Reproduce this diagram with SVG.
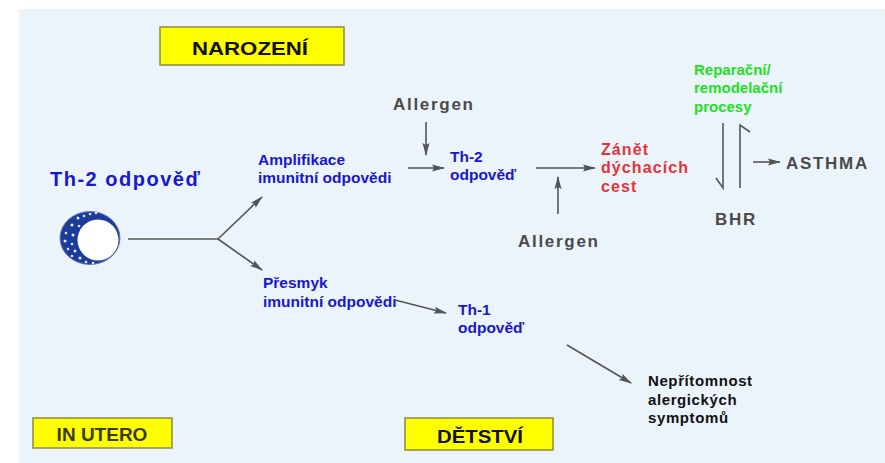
<svg xmlns="http://www.w3.org/2000/svg" width="885" height="463" viewBox="0 0 885 463">
  <style>
    text { font-family: "Liberation Sans", Arial, sans-serif; font-weight: bold; }
    .blue { fill: #1818cc; font-size: 15.5px; }
    .gray { fill: #4a4a4a; font-size: 17px; letter-spacing: 1.7px; }
    .red { fill: #e8323a; font-size: 16px; letter-spacing: 1.1px; }
    .green { fill: #22e022; font-size: 15px; }
    .black { fill: #111; font-size: 15px; letter-spacing: 0.6px; }
    .stage { fill: #ffff00; stroke: #8c8c3c; stroke-width: 1.5; }
    .stagetext { font-size: 19px; text-anchor: middle; }
    .conn line, .conn polyline { stroke: #555; stroke-width: 1.6; fill: none; }
    .conn .arr { marker-end: url(#head); }
  </style>
  <defs>
    <marker id="head" viewBox="0 0 13 8" refX="12" refY="4" markerWidth="13" markerHeight="8" markerUnits="userSpaceOnUse" orient="auto">
      <path d="M0,0.5 L13,4 L0,7.5 L2,4 Z" fill="#555"/>
    </marker>
  </defs>

  <!-- page background -->
  <rect x="0" y="0" width="885" height="463" fill="#ffffff"/>
  <rect x="19" y="9" width="866" height="454" fill="#ebf3fb"/>

  <!-- stage labels -->
  <g id="stage-narozeni">
    <rect class="stage" x="160" y="27" width="184" height="38"/>
    <text class="stagetext" x="250" y="55" fill="#111" font-size="22" textLength="116" lengthAdjust="spacingAndGlyphs">NAROZENÍ</text>
  </g>
  <g id="stage-in-utero">
    <rect class="stage" x="33" y="418" width="139" height="30"/>
    <text class="stagetext" x="102" y="441" fill="#3a3a10" font-size="19">IN UTERO</text>
  </g>
  <g id="stage-detstvi">
    <rect class="stage" x="405" y="418" width="148" height="32"/>
    <text class="stagetext" x="480" y="443" fill="#111" font-size="21" textLength="86" lengthAdjust="spacingAndGlyphs">DĚTSTVÍ</text>
  </g>

  <!-- Th-2 cell -->
  <g id="th2-cell">
    <text x="50" y="186" fill="#1818cc" font-size="20" letter-spacing="1.5">Th-2 odpověď</text>
    <ellipse cx="90" cy="238" rx="30" ry="26.5" fill="#1c3c9c" stroke="#6a78c0" stroke-width="1"/>
    <g fill="#e8e8ff">
      <circle cx="78" cy="218" r="1.5"/><circle cx="84" cy="216" r="1.3"/>
      <circle cx="72" cy="225" r="1.5"/><circle cx="79" cy="226" r="1.3"/>
      <circle cx="66" cy="233" r="1.3"/><circle cx="73" cy="235" r="1.5"/>
      <circle cx="65" cy="241" r="1.5"/><circle cx="72" cy="244" r="1.3"/>
      <circle cx="68" cy="249" r="1.3"/><circle cx="75" cy="251" r="1.5"/>
      <circle cx="72" cy="256" r="1.3"/><circle cx="80" cy="258" r="1.5"/>
      <circle cx="86" cy="262" r="1.3"/><circle cx="93" cy="263" r="1.3"/>
      <circle cx="90" cy="214" r="1.3"/><circle cx="96" cy="213" r="1.3"/>
    </g>
    <circle cx="98" cy="240" r="20.5" fill="#ffffff"/>
  </g>

  <!-- pathway texts -->
  <g id="amplifikace">
    <text class="blue" x="258" y="165">Amplifikace</text>
    <text class="blue" x="258" y="183">imunitní odpovědi</text>
  </g>
  <g id="presmyk">
    <text class="blue" x="263" y="288">Přesmyk</text>
    <text class="blue" x="263" y="307">imunitní odpovědi</text>
  </g>
  <g id="allergen-top">
    <text class="gray" x="393" y="110">Allergen</text>
  </g>
  <g id="th2-response">
    <text class="blue" x="450" y="162">Th-2</text>
    <text class="blue" x="450" y="180">odpověď</text>
  </g>
  <g id="allergen-bottom">
    <text class="gray" x="518" y="247">Allergen</text>
  </g>
  <g id="zanet">
    <text class="red" x="601" y="155">Zánět</text>
    <text class="red" x="601" y="173">dýchacích</text>
    <text class="red" x="601" y="192">cest</text>
  </g>
  <g id="reparacni">
    <text class="green" x="694" y="75">Reparační/</text>
    <text class="green" x="694" y="93">remodelační</text>
    <text class="green" x="694" y="112">procesy</text>
  </g>
  <g id="bhr">
    <text class="gray" x="715" y="225" letter-spacing="3.5">BHR</text>
  </g>
  <g id="asthma">
    <text class="gray" x="786" y="169" font-size="18" letter-spacing="2.8">ASTHMA</text>
  </g>
  <g id="th1-response">
    <text class="blue" x="458" y="315">Th-1</text>
    <text class="blue" x="458" y="333">odpověď</text>
  </g>
  <g id="nepritomnost">
    <text class="black" x="648" y="386">Nepřítomnost</text>
    <text class="black" x="648" y="405">alergických</text>
    <text class="black" x="648" y="423">symptomů</text>
  </g>

  <!-- connectors -->
  <g id="connectors" class="conn">
    <line x1="128" y1="239" x2="218" y2="239"/>
    <line class="arr" x1="218" y1="239" x2="262" y2="197"/>
    <line class="arr" x1="218" y1="239" x2="262" y2="270"/>
    <line class="arr" x1="408" y1="168" x2="444" y2="168"/>
    <line class="arr" x1="426" y1="122" x2="426" y2="155"/>
    <line class="arr" x1="536" y1="168" x2="595" y2="168"/>
    <line class="arr" x1="558" y1="214" x2="558" y2="177"/>
    <line class="arr" x1="395" y1="300" x2="446" y2="313"/>
    <line class="arr" x1="567" y1="345" x2="631" y2="383"/>
    <line class="arr" x1="753" y1="162" x2="780" y2="162"/>
    <!-- harpoon pair between remodelling and BHR -->
    <polyline points="723,123 723,188 716,178"/>
    <polyline points="740,188 740,125 750,132"/>
  </g>
</svg>
